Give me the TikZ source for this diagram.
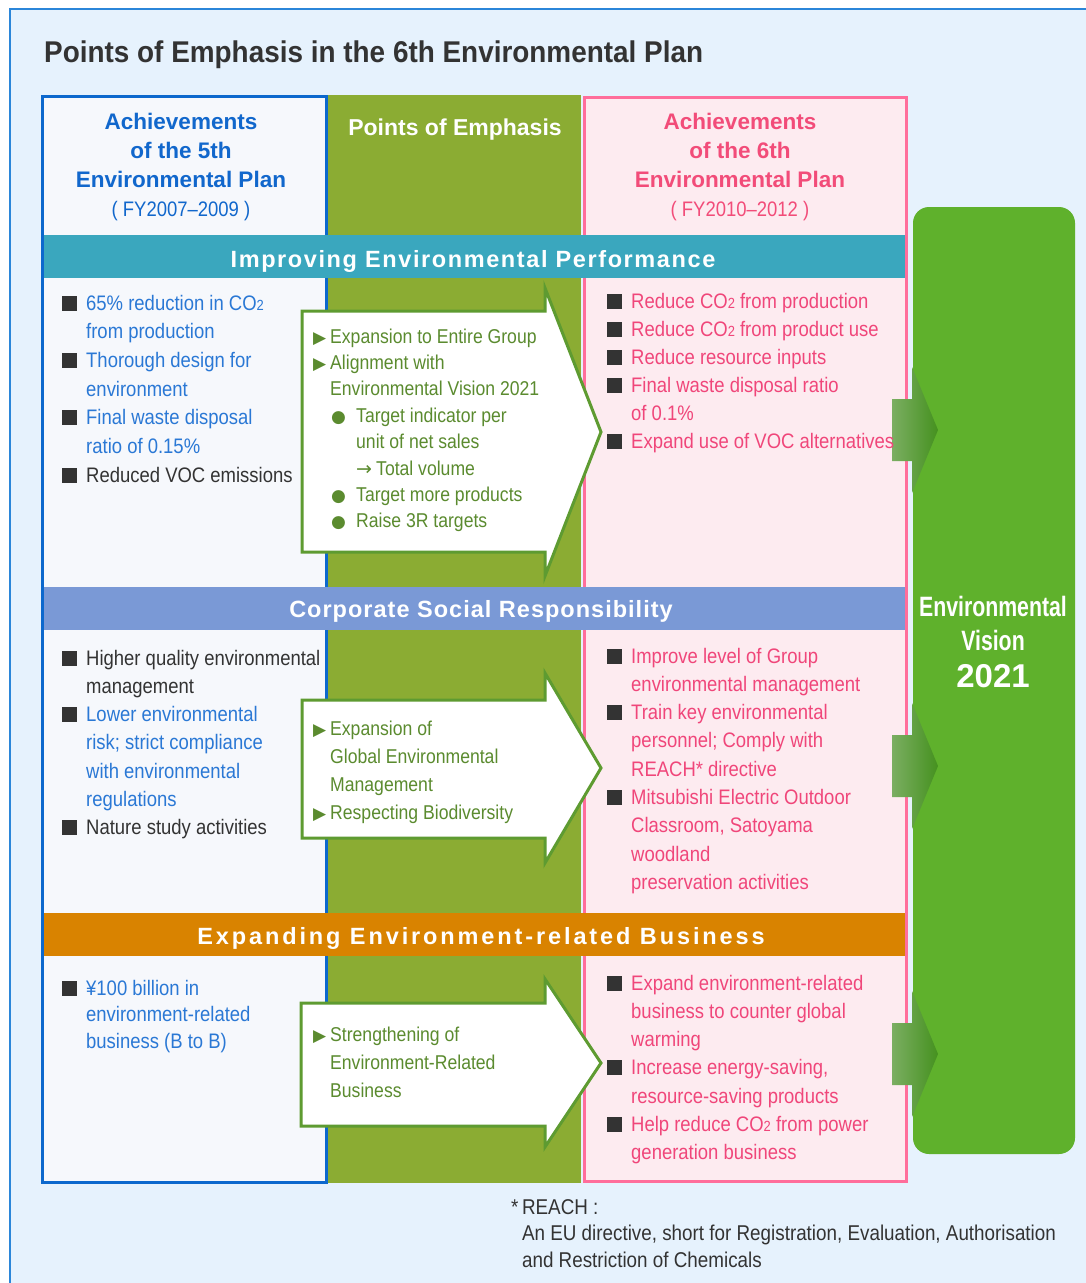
\documentclass[tikz,border=0pt]{standalone}
\usepackage{fontspec}
\setmainfont{Liberation Sans}
\newfontfamily\condfont[FakeStretch=0.88]{Liberation Sans}
\newfontfamily\titlefont[FakeStretch=0.93]{Liberation Sans}
\newfontfamily\visionfont[FakeStretch=0.76]{Liberation Sans}
\newfontfamily\symfont{DejaVu Sans}
\definecolor{bgblue}{HTML}{E6F2FD}
\definecolor{framecol}{HTML}{2B86D9}
\definecolor{leftfill}{HTML}{F6F8FC}
\definecolor{leftline}{HTML}{0C68CD}
\definecolor{olive}{HTML}{8BAC33}
\definecolor{pinkfill}{HTML}{FDEBF0}
\definecolor{pinkline}{HTML}{FF6E9B}
\definecolor{teal}{HTML}{3AA7BE}
\definecolor{peri}{HTML}{7A99D6}
\definecolor{orange}{HTML}{D98300}
\definecolor{vision}{HTML}{5FB12C}
\definecolor{arrowgreen}{HTML}{5E9B31}
\definecolor{tblue}{HTML}{2A78D5}
\definecolor{tgray}{HTML}{333333}
\definecolor{tpink}{HTML}{F0467A}
\definecolor{tgreen}{HTML}{5B8B2F}
\definecolor{sqgray}{HTML}{333333}
\definecolor{hblue}{HTML}{1167CC}
\definecolor{hpink}{HTML}{F24C79}
\definecolor{sa1}{HTML}{7BAE62}
\definecolor{sa2}{HTML}{45911F}
\newcommand\sq{\makebox[24pt][l]{\textcolor{sqgray}{\rule[-0.5pt]{15pt}{15pt}}}}
\newcommand\tri{\makebox[17pt][l]{\textcolor{tgreen}{\symfont\fontsize{17}{17}\selectfont ▶}}}
\newcommand\dotb{\makebox[26pt][l]{\hspace{1pt}\textcolor{tgreen}{\symfont\fontsize{17}{17}\selectfont ●}}}
\newcommand\arrw{\makebox[20pt][l]{\symfont\fontsize{19}{19}\selectfont →}}
\newcommand\cotwo{CO\scalebox{0.7}{2}}
\newcommand\blist[1]{\begin{tabular}[t]{@{}l@{}l@{}l@{}}#1\end{tabular}}
\newcommand\clist[1]{\begin{tabular}[t]{@{}c@{}}#1\end{tabular}}
\begin{document}
\begin{tikzpicture}[x=1pt,y=-1pt,
  txt/.style={inner sep=0pt,anchor=base west,font=\condfont\fontsize{21}{#1}\selectfont},
  head/.style={inner sep=0pt,anchor=base,font=\bfseries\fontsize{22.5}{29}\selectfont},
  band/.style={inner sep=0pt,anchor=base,text=white,font=\bfseries\fontsize{23.5}{28}\selectfont\addfontfeature{LetterSpace=#1}},
  bigarrow/.style={draw=arrowgreen,line width=3pt,fill=white,line join=miter}]
\useasboundingbox (0,0) rectangle (1086,1283);
\clip (0,0) rectangle (1086,1283);
\draw[framecol,line width=1.5pt,fill=bgblue] (10,9) rectangle (1100,1300);
% columns
\fill[leftfill] (42,96) rectangle (326,1182);
\fill[olive] (327,95) rectangle (581,1183);
\fill[pinkfill] (584,97) rectangle (906,1181);
\draw[leftline,line width=3pt] (42,96) rectangle (326,1182);
\draw[pinkline,line width=3pt] (584,97) rectangle (906,1181);
\fill[teal] (43.5,235) rectangle (904.5,278);
\fill[peri] (43.5,587) rectangle (904.5,630);
\fill[orange] (43.5,913) rectangle (904.5,956);
\fill[vision,rounded corners=16pt] (913,207) rectangle (1075,1154);
\draw[bigarrow] (302,311) -- (545,311) -- (545,288) -- (601,432) -- (545,576) -- (545,552) -- (302,552) -- cycle;
\draw[bigarrow] (302,700) -- (545,700) -- (545,673) -- (601,768) -- (545,863) -- (545,838) -- (302,838) -- cycle;
\draw[bigarrow] (301,1003) -- (545,1003) -- (545,979) -- (601,1063) -- (545,1147) -- (545,1126) -- (301,1126) -- cycle;
\foreach \yc in {430,766,1054}
  \shade[left color=sa1,right color=sa2] (892,\yc-31) -- (912,\yc-31) -- (912,\yc-63) -- (938,\yc) -- (912,\yc+63) -- (912,\yc+31) -- (892,\yc+31) -- cycle;

\node (title) [inner sep=0pt,anchor=base west,text=tgray,font=\titlefont\bfseries\fontsize{30}{36}\selectfont] at (44,62)
  {Points of Emphasis in the 6th Environmental Plan};
\node (lhead) [head,text=hblue] at (181,129)
  {\clist{Achievements\\of the 5th\\Environmental Plan\\{\condfont\mdseries\fontsize{21}{29}\selectfont( FY2007–2009 )}}};
\node (mhead) [head,text=white,font=\bfseries\fontsize{23}{29}\selectfont] at (455,135) {Points of Emphasis};
\node (rhead) [head,text=hpink] at (740,129)
  {\clist{Achievements\\of the 6th\\Environmental Plan\\{\condfont\mdseries\fontsize{21}{29}\selectfont( FY2010–2012 )}}};
\node (perf) [band=6.8] at (473,267) {Improving Environmental Performance};
\node (csr) [band=4.3] at (481,617) {Corporate Social Responsibility};
\node (biz) [band=12.3] at (481,944) {Expanding Environment-related Business};

\node (lperf) [txt=28.7,text=tblue] at (62,310) {\blist{
  \sq & 65\% reduction in \cotwo\\ & from production\\
  \sq & Thorough design for\\ & environment\\
  \sq & Final waste disposal\\ & ratio of 0.15\%\\
  \sq & \color{tgray}Reduced VOC emissions}};
\node (lcsr) [txt=28.3,text=tgray] at (62,665) {\blist{
  \sq & Higher quality environmental\\ & management\\
  \sq & \color{tblue}Lower environmental\\ & \color{tblue}risk; strict compliance\\
  & \color{tblue}with environmental\\ & \color{tblue}regulations\\
  \sq & Nature study activities}};
\node (lbiz) [txt=26.5,text=tblue] at (62,995) {\blist{
  \sq & ¥100 billion in\\ & environment-related\\ & business (B to B)}};

\node (mperf) [txt=26.4,text=tgreen,font=\condfont\fontsize{20}{26.4}\selectfont] at (313,343) {\blist{
  \tri & \multicolumn{2}{@{}l@{}}{Expansion to Entire Group}\\
  \tri & \multicolumn{2}{@{}l@{}}{Alignment with}\\
  & \multicolumn{2}{@{}l@{}}{Environmental Vision 2021}\\
  & \dotb & Target indicator per\\ & & unit of net sales\\ & & \arrw Total volume\\
  & \dotb & Target more products\\
  & \dotb & Raise 3R targets}};
\node (mcsr) [txt=28,text=tgreen,font=\condfont\fontsize{20}{28}\selectfont] at (313,735) {\blist{
  \tri & Expansion of\\ & Global Environmental\\ & Management\\
  \tri & Respecting Biodiversity}};
\node (mbiz) [txt=28,text=tgreen,font=\condfont\fontsize{20}{28}\selectfont] at (313,1041) {\blist{
  \tri & Strengthening of\\ & Environment-Related\\ & Business}};

\node (rperf) [txt=28,text=tpink] at (607,308) {\blist{
  \sq & Reduce \cotwo{} from production\\
  \sq & Reduce \cotwo{} from product use\\
  \sq & Reduce resource inputs\\
  \sq & Final waste disposal ratio\\ & of 0.1\%\\
  \sq & Expand use of VOC alternatives}};
\node (rcsr) [txt=28.3,text=tpink] at (607,663) {\blist{
  \sq & Improve level of Group\\ & environmental management\\
  \sq & Train key environmental\\ & personnel; Comply with\\ & REACH* directive\\
  \sq & Mitsubishi Electric Outdoor\\ & Classroom, Satoyama\\ & woodland\\ & preservation activities}};
\node (rbiz) [txt=28.3,text=tpink] at (607,990) {\blist{
  \sq & Expand environment-related\\ & business to counter global\\ & warming\\
  \sq & Increase energy-saving,\\ & resource-saving products\\
  \sq & Help reduce \cotwo{} from power\\ & generation business}};

\node (vis) [inner sep=0pt,anchor=base,text=white,font=\visionfont\bfseries\fontsize{28}{34}\selectfont] at (993,616)
  {\clist{Environmental\\Vision}};
\node (year) [inner sep=0pt,anchor=base,text=white,font=\bfseries\fontsize{33}{36}\selectfont] at (993,687) {2021};
\node (note) [txt=26.5,text=tgray,font=\condfont\fontsize{21.4}{26.5}\selectfont] at (511,1214)
  {\begin{tabular}[t]{@{}l@{\,}l@{}}*&REACH :\\&An EU directive, short for Registration, Evaluation, Authorisation\\&and Restriction of Chemicals\end{tabular}};
\end{tikzpicture}
\end{document}
